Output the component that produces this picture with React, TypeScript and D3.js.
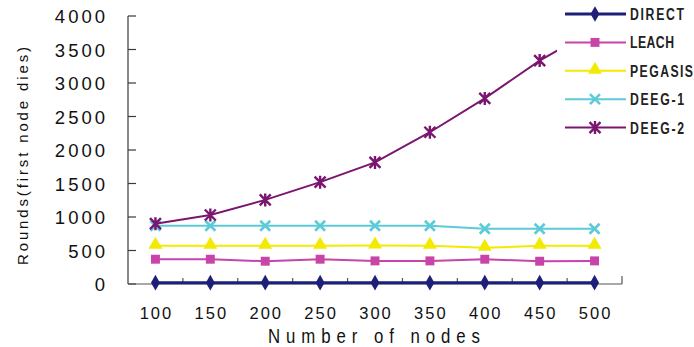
import React, { useEffect, useRef } from "react";
import * as d3 from "d3";

// Number of nodes in the network
const categories = ["100", "150", "200", "250", "300", "350", "400", "450", "500"];

// Rounds until the first node dies, per protocol
const direct = [20, 20, 20, 20, 20, 20, 20, 20, 20];
const leach = [370, 370, 340, 370, 345, 345, 370, 340, 345];
const pegasis = [570, 570, 570, 570, 575, 570, 540, 570, 570];
const deeg1 = [870, 870, 870, 870, 870, 870, 825, 825, 825];
const deeg2 = [900, 1030, 1255, 1520, 1815, 2265, 2770, 3335, 3800];

const yTicks = [0, 500, 1000, 1500, 2000, 2500, 3000, 3500, 4000];

type Marker = "diamond" | "square" | "triangle" | "x" | "asterisk";

const series: { name: string; values: number[]; color: string; width: number; marker: Marker; labelWidth: number }[] = [
  { name: "DIRECT", values: direct, color: "#1e1f78", width: 3, marker: "diamond", labelWidth: 54 },
  { name: "LEACH", values: leach, color: "#c844a8", width: 2, marker: "square", labelWidth: 44 },
  { name: "PEGASIS", values: pegasis, color: "#f2ea00", width: 2, marker: "triangle", labelWidth: 63 },
  { name: "DEEG-1", values: deeg1, color: "#5ccbd8", width: 2, marker: "x", labelWidth: 54 },
  { name: "DEEG-2", values: deeg2, color: "#7a1670", width: 2, marker: "asterisk", labelWidth: 54 },
];

const W = 694;
const H = 347;
const left = 128;
const right = 622;
const top = 16;
const bottom = 284;
const narrow = 0.72;
const titleNarrow = 0.8;

function drawMarker(g: d3.Selection<SVGGElement, unknown, null, undefined>, kind: Marker, x: number, y: number, color: string) {
  if (kind === "diamond") {
    g.append("path").attr("d", d3.symbol(d3.symbolDiamond, 70)()).attr("transform", `translate(${x},${y})`).attr("fill", color);
  } else if (kind === "square") {
    g.append("path").attr("d", d3.symbol(d3.symbolSquare, 80)()).attr("transform", `translate(${x},${y})`).attr("fill", color);
  } else if (kind === "triangle") {
    g.append("path").attr("d", d3.symbol(d3.symbolTriangle, 85)()).attr("transform", `translate(${x},${y - 1})`).attr("fill", color);
  } else if (kind === "x") {
    const r = 5;
    g.append("path")
      .attr("d", `M${x - r},${y - r}L${x + r},${y + r}M${x - r},${y + r}L${x + r},${y - r}`)
      .attr("stroke", color).attr("stroke-width", 2.6).attr("fill", "none");
  } else {
    const r = 5.5;
    g.append("path")
      .attr("d", `M${x - r},${y - r}L${x + r},${y + r}M${x - r},${y + r}L${x + r},${y - r}M${x},${y - r - 1}L${x},${y + r + 1}`)
      .attr("stroke", color).attr("stroke-width", 2.4).attr("fill", "none");
  }
}

export default function App() {
  const ref = useRef<SVGSVGElement>(null);

  useEffect(() => {
    const svg = d3.select(ref.current!);
    svg.selectAll("*").remove();

    const x = d3.scaleBand().domain(categories).range([left, right]).padding(0);
    const cx = (c: string) => (x(c) as number) + x.bandwidth() / 2;
    const y = d3.scaleLinear().domain([0, 4000]).range([bottom, top]);

    const tickFont = "'Liberation Sans', Arial, sans-serif";

    // y axis line and inward ticks
    const axis = svg.append("g").attr("stroke", "#3a3a3a").attr("stroke-width", 1.2);
    axis.append("line").attr("x1", left).attr("x2", left).attr("y1", y(4000)).attr("y2", y(0));
    yTicks.forEach((t) => {
      axis.append("line").attr("x1", left).attr("x2", left + 8).attr("y1", y(t)).attr("y2", y(t));
    });

    // x axis line with ticks at band boundaries
    axis.append("line").attr("x1", left).attr("x2", right).attr("y1", bottom).attr("y2", bottom).attr("stroke", "#555");
    categories.forEach((c, i) => {
      if (i === 0) return;
      const bx = x(c) as number;
      axis.append("line").attr("x1", bx).attr("x2", bx).attr("y1", bottom).attr("y2", bottom - 6).attr("stroke", "#555");
    });
    axis.append("line").attr("x1", right).attr("x2", right).attr("y1", bottom).attr("y2", bottom - 8).attr("stroke", "#555");

    // y tick labels
    svg.append("g")
      .selectAll("text")
      .data(yTicks)
      .join("text")
      .attr("x", 108)
      .attr("y", (d) => y(d) + 7)
      .attr("text-anchor", "end")
      .attr("font-family", tickFont)
      .attr("font-size", 18.5)
      .attr("letter-spacing", 3)
      .attr("fill", "#111")
      .text((d) => String(d));

    // x tick labels
    svg.append("g")
      .selectAll("text")
      .data(categories)
      .join("text")
      .attr("x", (d) => cx(d) + 1)
      .attr("y", 319)
      .attr("text-anchor", "middle")
      .attr("font-family", tickFont)
      .attr("font-size", 16.5)
      .attr("letter-spacing", 2)
      .attr("fill", "#111")
      .text((d) => d);

    // axis titles (condensed glyphs, spaced out)
    svg.append("text")
      .attr("transform", `translate(268,343) scale(${titleNarrow},1)`)
      .attr("font-family", tickFont)
      .attr("font-size", 21)
      .attr("font-weight", 500)
      .attr("textLength", 212 / titleNarrow)
      .attr("lengthAdjust", "spacing")
      .attr("fill", "#111")
      .text("Number of nodes");

    svg.append("text")
      .attr("transform", "translate(28,265) rotate(-90)")
      .attr("font-family", tickFont)
      .attr("font-size", 15)
      .attr("textLength", 218)
      .attr("lengthAdjust", "spacing")
      .attr("fill", "#111")
      .text("Rounds(first node dies)");

    // series lines and markers
    const line = d3.line<number>().x((_, i) => cx(categories[i])).y((d) => y(d));
    series.forEach((s) => {
      const g = svg.append("g");
      g.append("path").attr("d", line(s.values)!).attr("fill", "none").attr("stroke", s.color).attr("stroke-width", s.width);
      s.values.forEach((v, i) => drawMarker(g, s.marker, cx(categories[i]), y(v), s.color));
    });

    // legend on a white panel
    const lg = svg.append("g");
    lg.append("rect").attr("x", 557).attr("y", 0).attr("width", W - 557).attr("height", 142).attr("fill", "#fff");
    series.forEach((s, i) => {
      const ly = 14 + i * 28.4;
      lg.append("line").attr("x1", 565).attr("x2", 626).attr("y1", ly).attr("y2", ly).attr("stroke", s.color).attr("stroke-width", s.width);
      drawMarker(lg, s.marker, 595, ly, s.color);
      lg.append("text")
        .attr("transform", `translate(630,${ly + 6}) scale(${narrow},1)`)
        .attr("font-family", tickFont)
        .attr("font-size", 17)
        .attr("font-weight", 600)
        .attr("textLength", s.labelWidth / narrow)
        .attr("lengthAdjust", "spacing")
        .attr("fill", "#222")
        .text(s.name);
    });
  }, []);

  return (
    <svg
      ref={ref}
      width={W}
      height={H}
      style={{ position: "absolute", left: 0, top: 0, background: "#fff" }}
    />
  );
}
